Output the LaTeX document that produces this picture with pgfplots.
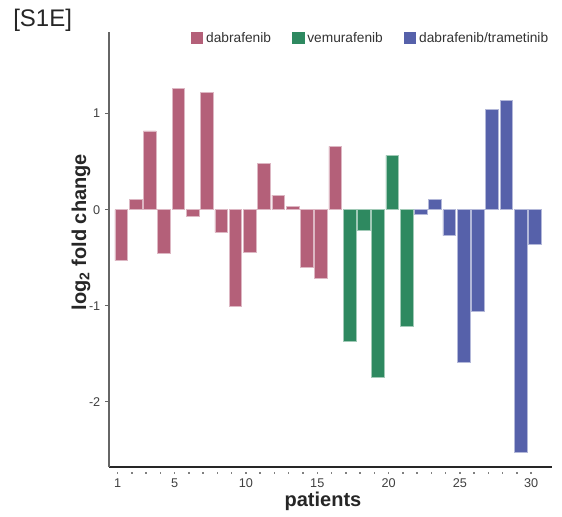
\documentclass[border=0pt]{standalone}
\usepackage{fontspec}
\setmainfont{Liberation Sans}
\usepackage{pgfplots}
\pgfplotsset{compat=1.18}
\definecolor{cpink}{RGB}{180,96,121}
\definecolor{cgreen}{RGB}{46,137,96}
\definecolor{cblue}{RGB}{86,97,170}
\pgfplotsset{sqlegend/.style={legend image code/.code={\fill[##1, draw=none] (0pt,-4.3pt) rectangle (9.2pt,4.3pt);}}}
\begin{document}
\begin{tikzpicture}
\useasboundingbox (0,0) rectangle (421.5pt,387.75pt);
\node[anchor=west, font=\fontsize{18}{18}\selectfont, text=black!85, inner sep=0pt] at (9.75pt,372.75pt) {[S1E]};
\begin{axis}[
  at={(81.75pt,37.5pt)}, anchor=south west,
  scale only axis, width=332.25pt, height=326.25pt,
  xmin=0.137, xmax=31.2, ymin=-2.68, ymax=1.85,
  axis x line*=bottom, axis y line*=left,
  axis line style={-},
  x axis line style={black!85, line width=0.9pt},
  y axis line style={black!60, line width=0.8pt},
  ybar, bar width=0.89, bar shift=0pt,
  ytick={-2,-1,0,1}, yticklabels={-2,-1,0,1},
  xtick={0.74,4.74,9.74,14.74,19.74,24.74,29.74},
  xticklabels={1,5,10,15,20,25,30},
  minor xtick={0.74,1.74,...,29.74},
  tick align=outside,
  major tick length=3pt, minor tick length=3pt,
  x tick style={draw=black!50, line width=1.1pt, yshift=-2pt, dash pattern=on 1.1pt off 6pt},
  y tick style={draw=black!60, line width=0.6pt},
  tick label style={font=\fontsize{9.5}{11}\selectfont, text=black!75},
  xticklabel style={yshift=-2.5pt},
  /pgf/number format/assume math mode=true,
  xlabel={\textbf{patients}},
  ylabel={\textbf{log\textsubscript{2} fold change}},
  xlabel style={font=\fontsize{15}{18}\selectfont, text=black!85, at={(axis description cs:0.483,-0.078)}, anchor=center},
  ylabel style={font=\fontsize{15}{18}\selectfont, text=black!85, at={(axis description cs:-0.063,0.54)}, anchor=center},
  legend style={at={(0.185,0.986)}, anchor=west, draw=none, fill=none,
    font=\fontsize{10.3}{12}\selectfont, text=black!80, inner sep=0pt,
    /tikz/every even column/.append style={column sep=14pt}},
  legend columns=3, legend cell align=left,
]
\addplot[fill=cpink, draw=cpink!45!white, line width=0.4pt, sqlegend]
  coordinates {(1,-0.53) (2,0.11) (3,0.82) (4,-0.455) (5,1.26) (6,-0.07) (7,1.225) (8,-0.236)
  (9,-1.01) (10,-0.44) (11,0.48) (12,0.15) (13,0.035) (14,-0.60) (15,-0.71) (16,0.66)};
\addlegendentry{dabrafenib}
\addplot[fill=cgreen, draw=cgreen!45!white, line width=0.4pt, sqlegend]
  coordinates {(17,-1.37) (18,-0.21) (19,-1.75) (20,0.565) (21,-1.21)};
\addlegendentry{vemurafenib}
\addplot[fill=cblue, draw=cblue!45!white, line width=0.4pt, sqlegend]
  coordinates {(22,-0.05) (23,0.107) (24,-0.27) (25,-1.59) (26,-1.06) (27,1.045) (28,1.14) (29,-2.53) (30,-0.365)};
\addlegendentry{dabrafenib/trametinib}
\end{axis}
\end{tikzpicture}
\end{document}
